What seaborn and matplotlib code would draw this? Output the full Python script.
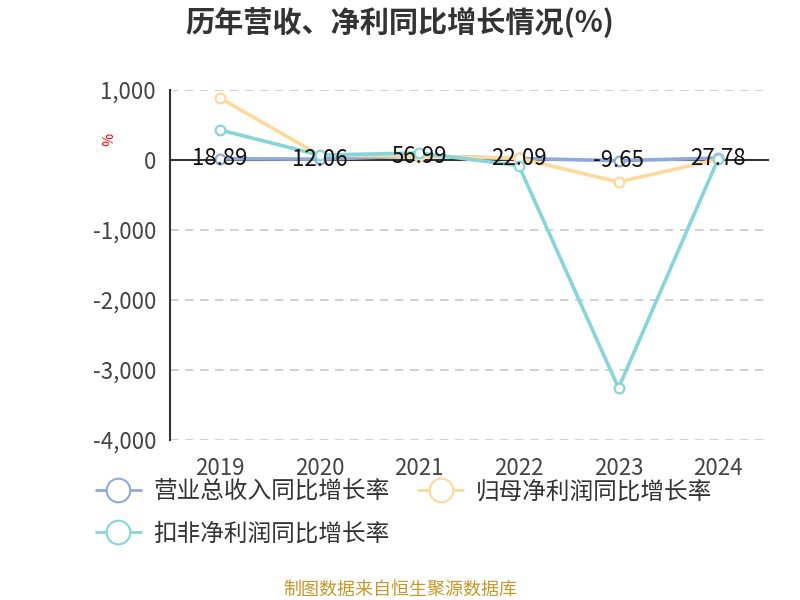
import matplotlib
matplotlib.use("Agg")
import matplotlib.pyplot as plt
from matplotlib.lines import Line2D
from matplotlib.ticker import FuncFormatter
import seaborn as sns
import pandas as pd

# 数据
years = ["2019", "2020", "2021", "2022", "2023", "2024"]
revenue_yoy = [18.89, 12.06, 56.99, 22.09, -9.65, 27.78]
parent_profit_yoy = [886, 70, 55, 25, -314, 10]
deducted_profit_yoy = [430, 70, 100, -80, -3257, 15]
series_names = ["营业总收入同比增长率", "归母净利润同比增长率", "扣非净利润同比增长率"]
series_colors = ["#8eaadb", "#fdd99b", "#86d5d8"]

sns.set_style("white")
plt.rcParams["font.family"] = ["Noto Sans CJK SC", "DejaVu Sans"]
plt.rcParams["axes.unicode_minus"] = False

df = pd.DataFrame({
    "pos": list(range(len(years))) * 3,
    "value": revenue_yoy + parent_profit_yoy + deducted_profit_yoy,
    "series": [s for s in series_names for _ in years],
})

fig = plt.figure(figsize=(8, 6), dpi=100)
ax = fig.add_axes([0.2125, 0.2667, 0.7475, 0.5833])

for name, color in zip(series_names, series_colors):
    sub = df[df["series"] == name]
    sns.lineplot(data=sub, x="pos", y="value", ax=ax, color=color, linewidth=2.6,
                 marker="o", markersize=7, markerfacecolor="white",
                 markeredgecolor=color, markeredgewidth=1.6, legend=False, zorder=3)

# 数据标签（营收）
for i, v in enumerate(revenue_yoy):
    ax.text(i, v, f"{v:.2f}", ha="center", va="center", fontsize=16,
            color="#111111", zorder=5)

ax.set_xlim(-0.5, len(years) - 0.5)
ax.set_ylim(-4000, 1000)
ax.set_yticks([1000, 0, -1000, -2000, -3000, -4000])
ax.yaxis.set_major_formatter(FuncFormatter(lambda v, p: f"{int(v):,}"))
ax.tick_params(axis="y", labelsize=16, labelcolor="#444444", length=6,
               width=1.2, color="#333333", direction="out", pad=4)
for yv in [1000, -1000, -2000, -3000, -4000]:
    ax.axhline(yv, color="#c8c8c8", linestyle=(0, (5, 4)), linewidth=1.2, zorder=1)

for s in ["top", "right"]:
    ax.spines[s].set_visible(False)
ax.spines["left"].set_color("#333333")
ax.spines["left"].set_linewidth(1.5)
ax.spines["bottom"].set_position(("data", 0))
ax.spines["bottom"].set_color("#333333")
ax.spines["bottom"].set_linewidth(1.5)
ax.spines["bottom"].set_zorder(2)

ax.set_xticks([i - 0.5 for i in range(len(years) + 1)])
ax.set_xticklabels([])
ax.tick_params(axis="x", length=6, width=1.2, color="#333333", direction="out")
ax.set_xlabel("")
ax.set_ylabel("")

sec = ax.secondary_xaxis(0)
sec.set_xticks(range(len(years)))
sec.set_xticklabels(years)
sec.tick_params(axis="x", length=0, labelsize=16, labelcolor="#444444", pad=12)
sec.spines["bottom"].set_visible(False)

ax.text(-0.11, 0.86, "%", transform=ax.transAxes, rotation=-90,
        ha="center", va="center", fontsize=10, color="#ff0000")

fig.text(0.5, 0.962, "历年营收、净利同比增长情况(%)", ha="center", va="center",
         fontsize=21, fontweight="bold", color="#333333")

# 图例按行排列：第一行营收、归母，第二行扣非
order = [0, 2, 1]
handles = [Line2D([0], [0], color=series_colors[k], linewidth=2, marker="o",
                  markersize=17, markerfacecolor="white",
                  markeredgecolor=series_colors[k], markeredgewidth=1.5)
           for k in order]
fig.legend(handles, [series_names[k] for k in order], loc="upper left",
           bbox_to_anchor=(0.108, 0.215), ncol=2, frameon=False, fontsize=17,
           labelcolor="#333333", handlelength=1.9, handletextpad=0.55,
           columnspacing=1.2, labelspacing=0.8, borderaxespad=0)

fig.text(0.5, 0.018, "制图数据来自恒生聚源数据库", ha="center", va="center",
         fontsize=13, color="#c8962a")

fig.savefig("out.png", dpi=100)
